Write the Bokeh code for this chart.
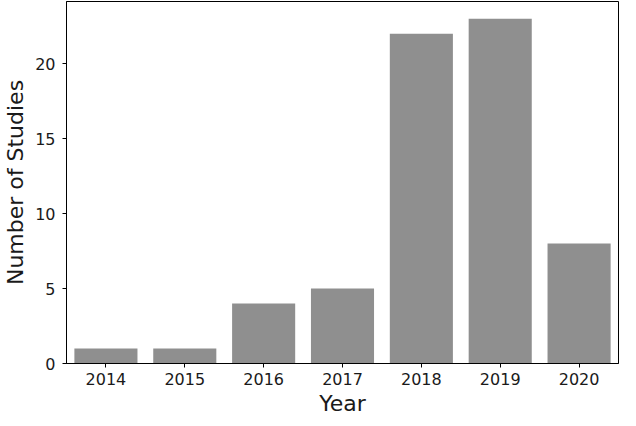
from bokeh.plotting import figure
from bokeh.models import Range1d, FactorRange, FixedTicker
from bokeh.embed import file_html
from bokeh.resources import INLINE

years = ["2014", "2015", "2016", "2017", "2018", "2019", "2020"]
counts = [1, 1, 4, 5, 22, 23, 8]
y_ticks = [0, 5, 10, 15, 20]

p = figure(x_range=FactorRange(*years, range_padding=0),
           y_range=Range1d(0, max(counts) * 1.05),
           width=620, height=418, output_backend="svg", toolbar_location=None)
p.min_border_left = 57
p.min_border_right = 2
p.min_border_top = 1
p.min_border_bottom = 52

p.vbar(x=years, top=counts, width=0.8, fill_color="#8f8f8f", line_color=None)

p.xgrid.visible = False
p.ygrid.visible = False
p.outline_line_color = "black"
p.outline_line_width = 1
p.background_fill_color = "white"
p.border_fill_color = "white"

p.yaxis.ticker = FixedTicker(ticks=y_ticks)
p.xaxis.axis_label = "Year"
p.yaxis.axis_label = "Number of Studies"
for ax in (p.xaxis, p.yaxis):
    ax.axis_line_color = "black"
    ax.major_tick_line_color = "black"
    ax.minor_tick_line_color = None
    ax.major_tick_out = 4
    ax.major_tick_in = 0
    ax.major_label_text_font = "DejaVu Sans"
    ax.major_label_text_font_size = "16px"
    ax.major_label_text_color = "#1a1a1a"
    ax.axis_label_text_font = "DejaVu Sans"
    ax.axis_label_text_font_size = "22px"
    ax.axis_label_text_font_style = "normal"
    ax.axis_label_text_color = "#1a1a1a"
p.xaxis.major_label_standoff = 5
p.xaxis.axis_label_standoff = 3
p.yaxis.major_label_standoff = 7
p.yaxis.axis_label_standoff = 4

open("out.html", "w").write(file_html(p, INLINE))
